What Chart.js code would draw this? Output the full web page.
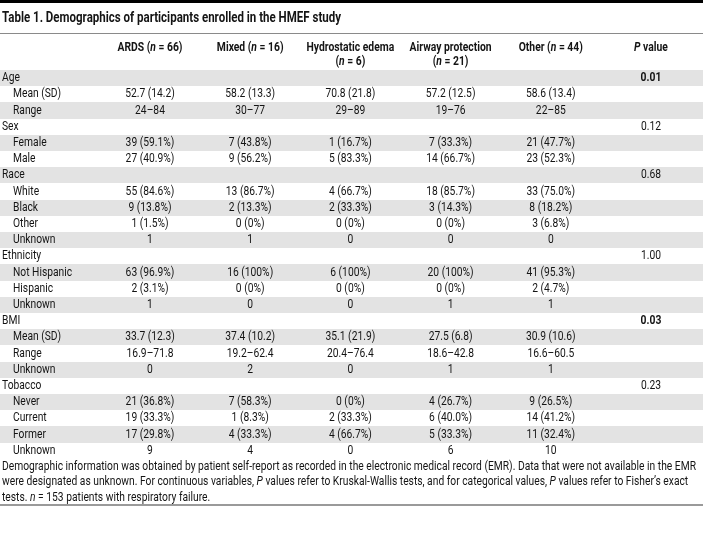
<!DOCTYPE html>
<html>
<head>
<meta charset="utf-8">
<script src="https://cdn.jsdelivr.net/npm/chart.js@4/dist/chart.umd.min.js"></script>
<style>
html,body{margin:0;padding:0;background:#fff;}
#wrap{width:703px;height:560px;position:relative;}
</style>
</head>
<body>
<div id="wrap"><canvas id="c"></canvas></div>
<script>
// ---------- DATA ----------
const tableTitle = "Table 1. Demographics of participants enrolled in the HMEF study";
const columnHeaders = [
  ["ARDS (_n_ = 66)"],
  ["Mixed (_n_ = 16)"],
  ["Hydrostatic edema", "(_n_ = 6)"],
  ["Airway protection", "(_n_ = 21)"],
  ["Other (_n_ = 44)"],
  ["_P_ value"]
];
const rowLabels = ["Age","Mean (SD)","Range","Sex","Female","Male","Race","White","Black","Other","Unknown",
  "Ethnicity","Not Hispanic","Hispanic","Unknown","BMI","Mean (SD)","Range","Unknown",
  "Tobacco","Never","Current","Former","Unknown"];
const sectionRows = [0, 3, 6, 11, 15, 19];
const ards = ["","52.7 (14.2)","24–84","","39 (59.1%)","27 (40.9%)","","55 (84.6%)","9 (13.8%)","1 (1.5%)","1",
  "","63 (96.9%)","2 (3.1%)","1","","33.7 (12.3)","16.9–71.8","0","","21 (36.8%)","19 (33.3%)","17 (29.8%)","9"];
const mixed = ["","58.2 (13.3)","30–77","","7 (43.8%)","9 (56.2%)","","13 (86.7%)","2 (13.3%)","0 (0%)","1",
  "","16 (100%)","0 (0%)","0","","37.4 (10.2)","19.2–62.4","2","","7 (58.3%)","1 (8.3%)","4 (33.3%)","4"];
const hydrostatic = ["","70.8 (21.8)","29–89","","1 (16.7%)","5 (83.3%)","","4 (66.7%)","2 (33.3%)","0 (0%)","0",
  "","6 (100%)","0 (0%)","0","","35.1 (21.9)","20.4–76.4","0","","0 (0%)","2 (33.3%)","4 (66.7%)","0"];
const airway = ["","57.2 (12.5)","19–76","","7 (33.3%)","14 (66.7%)","","18 (85.7%)","3 (14.3%)","0 (0%)","0",
  "","20 (100%)","0 (0%)","1","","27.5 (6.8)","18.6–42.8","1","","4 (26.7%)","6 (40.0%)","5 (33.3%)","6"];
const other = ["","58.6 (13.4)","22–85","","21 (47.7%)","23 (52.3%)","","33 (75.0%)","8 (18.2%)","3 (6.8%)","0",
  "","41 (95.3%)","2 (4.7%)","1","","30.9 (10.6)","16.6–60.5","1","","9 (26.5%)","14 (41.2%)","11 (32.4%)","10"];
const pValues = ["0.01","","","0.12","","","0.68","","","","",
  "1.00","","","","0.03","","","","0.23","","","",""];
const significantP = ["0.01","0.03"];
const footnoteLines = [
  "Demographic information was obtained by patient self-report as recorded in the electronic medical record (EMR). Data that were not available in the EMR",
  "were designated as unknown. For continuous variables, _P_ values refer to Kruskal-Wallis tests, and for categorical values, _P_ values refer to Fisher’s exact",
  "tests. _n_ = 153 patients with respiratory failure."
];

// ---------- LAYOUT / STYLE ----------
const FONT = "Roboto, 'Open Sans', sans-serif";
const TEXT = "#141414";
const BAND = "#e3e3e3";
const BODY_SIZE = 13;
const TITLE_SIZE = 15;
const LABEL_X = -0.477;      // x-scale value of label column left edge
const INDENT_PX = 11;
const HEADER_ROWS = [-1.88, -1.02];
const TITLE_ROW = -3.68;
const TITLE_RULE_ROW = -2.78;
const FOOT_ROWS = [23.97, 24.92, 25.90];
const BOTTOM_RULE_ROW = 26.30;

function fontStr(bold, italic, size){
  return (italic?"italic ":"")+(bold?"bold ":"")+size+"px "+FONT;
}
function rawWidth(ctx, s, bold, size){
  const parts = s.split("_"); let w = 0;
  parts.forEach((p,i)=>{ ctx.font = fontStr(bold, i%2===1, size); w += ctx.measureText(p).width; });
  return w;
}
// condensing factors, fitted to the widths of reference text runs
const mctx = document.createElement("canvas").getContext("2d");
const SX_BODY = 694 / rawWidth(mctx, footnoteLines[0], false, BODY_SIZE);
const SX_BOLD = 65 / rawWidth(mctx, columnHeaders[0][0], true, BODY_SIZE);
const SX_TITLE = 339 / rawWidth(mctx, tableTitle, true, TITLE_SIZE);

function drawRich(ctx, s, x, y, align, bold, size, sx){
  const w = rawWidth(ctx, s, bold, size) * sx;
  const x0 = align==="center" ? x - w/2 : (align==="right" ? x - w : x);
  ctx.save();
  ctx.translate(x0, y);
  ctx.scale(sx, 1);
  ctx.textAlign = "left"; ctx.textBaseline = "middle"; ctx.fillStyle = TEXT;
  let cx = 0;
  s.split("_").forEach((p,i)=>{
    ctx.font = fontStr(bold, i%2===1, size);
    ctx.fillText(p, cx, 0);
    cx += ctx.measureText(p).width;
  });
  ctx.restore();
}

const columns = [ards, mixed, hydrostatic, airway, other, pValues];
const datasets = [{
  label: "labels", texts: rowLabels, kind: "label",
  data: rowLabels.map((t, r) => ({x: LABEL_X, y: r})),
  pointRadius: 0, showLine: false
}].concat(columns.map((col, ci) => ({
  label: "col" + ci, texts: col, kind: ci === 5 ? "p" : "value",
  data: col.map((t, r) => ({x: ci + 1, y: r})),
  pointRadius: 0, showLine: false
})));

const tablePlugin = {
  id: "tablePlugin",
  beforeDatasetsDraw(chart){
    const ctx = chart.ctx, xs = chart.scales.x, ys = chart.scales.y, ca = chart.chartArea;
    ctx.save();
    ctx.fillStyle = BAND;
    rowLabels.forEach((l, r) => {
      if (r % 2 === 0) {
        const y0 = Math.round(ys.getPixelForValue(r - 0.5)), y1 = Math.round(ys.getPixelForValue(r + 0.5));
        ctx.fillRect(ca.left, y0, ca.right - ca.left, y1 - y0);
      }
    });
    ctx.fillStyle = "#000";
    ctx.fillRect(ca.left, ca.top, ca.right - ca.left, 3);
    drawRich(ctx, tableTitle, xs.getPixelForValue(LABEL_X), ys.getPixelForValue(TITLE_ROW), "left", true, TITLE_SIZE, SX_TITLE);
    ctx.fillStyle = "#8a8a8a";
    ctx.fillRect(ca.left, Math.round(ys.getPixelForValue(TITLE_RULE_ROW)), ca.right - ca.left, 1);
    columnHeaders.forEach((lines, ci) => {
      lines.forEach((ln, li) => {
        drawRich(ctx, ln, xs.getPixelForValue(ci + 1), ys.getPixelForValue(HEADER_ROWS[li]), "center", true, BODY_SIZE, SX_BOLD);
      });
    });
    ctx.fillStyle = "#9a9a9a";
    ctx.fillRect(ca.left, Math.round(ys.getPixelForValue(BOTTOM_RULE_ROW)), ca.right - ca.left, 2);
    ctx.restore();
  },
  afterDatasetsDraw(chart){
    const ctx = chart.ctx, xs = chart.scales.x, ys = chart.scales.y;
    ctx.save();
    chart.data.datasets.forEach((ds, di) => {
      const meta = chart.getDatasetMeta(di);
      meta.data.forEach((el, j) => {
        const t = ds.texts[j];
        if (!t) return;
        if (ds.kind === "label") {
          const x = el.x + (sectionRows.includes(j) ? 0 : INDENT_PX);
          drawRich(ctx, t, x, el.y, "left", false, BODY_SIZE, SX_BODY);
        } else {
          const b = ds.kind === "p" && significantP.includes(t);
          drawRich(ctx, t, el.x, el.y, "center", b, BODY_SIZE, b ? SX_BOLD : SX_BODY);
        }
      });
    });
    footnoteLines.forEach((ln, i) => {
      drawRich(ctx, ln, xs.getPixelForValue(LABEL_X), ys.getPixelForValue(FOOT_ROWS[i]), "left", false, BODY_SIZE, SX_BODY);
    });
    ctx.restore();
  }
};

new Chart(document.getElementById("c"), {
  type: "scatter",
  data: { datasets },
  options: {
    responsive: true,
    maintainAspectRatio: false,
    animation: false,
    layout: { padding: 0 },
    plugins: { legend: { display: false }, tooltip: { enabled: false }, title: { display: false } },
    events: [],
    scales: {
      x: { type: "linear", display: false, min: -0.497, max: 6.519 },
      y: { type: "linear", display: false, reverse: true, min: -4.815, max: 29.753 }
    }
  },
  plugins: [tablePlugin]
});
</script>
</body>
</html>
